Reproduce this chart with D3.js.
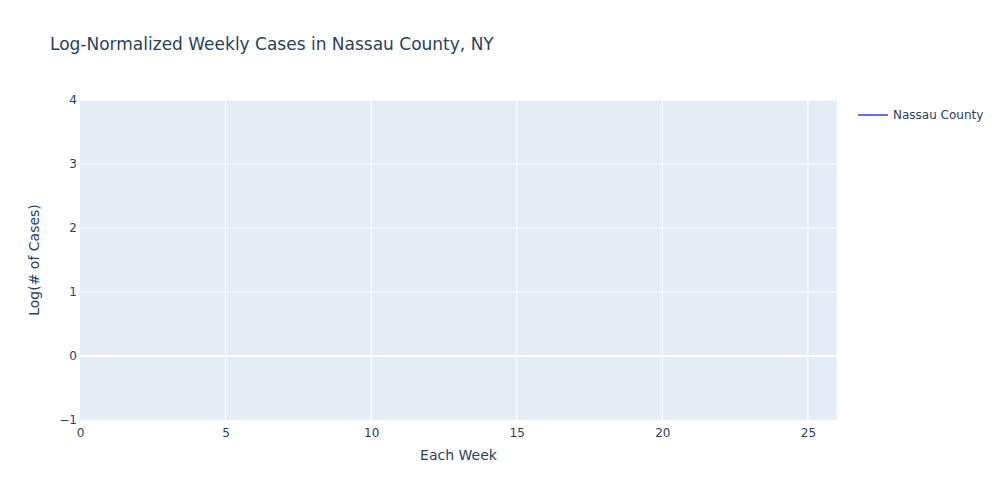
<!DOCTYPE html>
<html>
<head>
<meta charset="utf-8">
<script src="https://cdn.jsdelivr.net/npm/d3@7"></script>
<style>
  body { margin: 0; background: #fff; }
  svg { font-family: "DejaVu Sans", verdana, arial, sans-serif; }
</style>
</head>
<body>
<svg id="vis" width="1000" height="500"></svg>
<script>
// chart data (the series has no finite values, so the trace draws nothing)
const seriesName = "Nassau County";
const weeks = [];
const logCases = [];
const xTicks = [0, 5, 10, 15, 20, 25];
const yTicks = [-1, 0, 1, 2, 3, 4];

const svg = d3.select('#vis');
const margin = {left: 80, right: 163, top: 100, bottom: 80};
const WIDTH = 1000, HEIGHT = 500;
const textColor = "#2a3f5f";
const fontFamily = '"DejaVu Sans", verdana, arial, sans-serif';

const x = d3.scaleLinear().domain([0, 26]).range([margin.left, WIDTH - margin.right]);
const y = d3.scaleLinear().domain([-1, 4]).range([HEIGHT - margin.bottom, margin.top]);

// plot background
svg.append("rect")
    .attr("x", x(0)).attr("y", y(4))
    .attr("width", x(26) - x(0)).attr("height", y(-1) - y(4))
    .attr("fill", "#e5ecf6");

// grid
svg.append("g").selectAll("line")
    .data(xTicks.filter(function (d) { return d > 0; }))
    .enter().append("line")
    .attr("x1", function (d) { return x(d); }).attr("x2", function (d) { return x(d); })
    .attr("y1", y(4)).attr("y2", y(-1))
    .attr("stroke", "#fff").attr("stroke-width", 1);

svg.append("g").selectAll("line")
    .data(yTicks.filter(function (d) { return d > -1; }))
    .enter().append("line")
    .attr("x1", x(0)).attr("x2", x(26))
    .attr("y1", function (d) { return y(d); }).attr("y2", function (d) { return y(d); })
    .attr("stroke", "#fff")
    .attr("stroke-width", function (d) { return d === 0 ? 2 : 1; });

// axes
const xAxis = svg.append("g")
    .attr("transform", "translate(0," + y(-1) + ")")
    .call(d3.axisBottom(x).tickValues(xTicks).tickSize(0).tickPadding(8));
const yAxis = svg.append("g")
    .attr("transform", "translate(" + x(0) + ",0)")
    .call(d3.axisLeft(y).tickValues(yTicks).tickSize(0).tickPadding(3)
        .tickFormat(function (d) { return d < 0 ? "\u2212" + Math.abs(d) : d; }));
[xAxis, yAxis].forEach(function (a) {
    a.select(".domain").remove();
    a.selectAll("text").attr("fill", textColor).style("font-size", "12px")
        .style("font-family", fontFamily);
});

// line trace
const line = d3.line()
    .defined(function (d) { return isFinite(d[1]); })
    .x(function (d) { return x(d[0]); })
    .y(function (d) { return y(d[1]); });
svg.append("path")
    .datum(weeks.map(function (w, i) { return [w, logCases[i]]; }))
    .attr("d", line)
    .attr("fill", "none")
    .attr("stroke", "#636efa")
    .attr("stroke-width", 2);

// titles
svg.append("text")
    .attr("x", 50).attr("y", 50)
    .attr("fill", textColor).style("font-size", "17px")
    .text("Log-Normalized Weekly Cases in Nassau County, NY");

svg.append("text")
    .attr("x", (x(0) + x(26)) / 2).attr("y", 460)
    .attr("text-anchor", "middle")
    .attr("fill", textColor).style("font-size", "14px")
    .text("Each Week");

svg.append("text")
    .attr("transform", "translate(39," + (y(-1) + y(4)) / 2 + ") rotate(-90)")
    .attr("text-anchor", "middle")
    .attr("fill", textColor).style("font-size", "14px")
    .text("Log(# of Cases)");

// legend
const legend = svg.append("g").attr("transform", "translate(858,115)");
legend.append("line")
    .attr("x1", 0).attr("x2", 30).attr("y1", 0).attr("y2", 0)
    .attr("stroke", "#636efa").attr("stroke-width", 2);
legend.append("text")
    .attr("x", 35).attr("y", 4)
    .attr("fill", textColor).style("font-size", "12px")
    .text(seriesName);
</script>
</body>
</html>
